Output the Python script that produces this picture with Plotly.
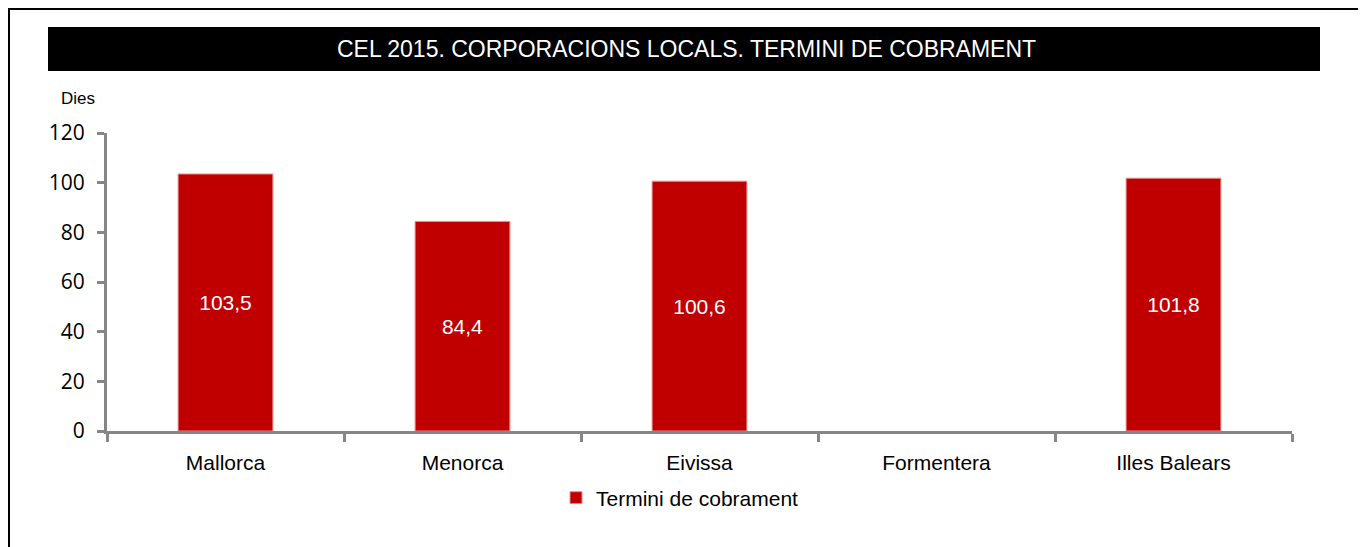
import plotly.graph_objects as go

categories = ["Mallorca", "Menorca", "Eivissa", "Formentera", "Illes Balears"]
values = [103.5, 84.4, 100.6, None, 101.8]
labels = ["103,5", "84,4", "100,6", "", "101,8"]
series_name = "Termini de cobrament"
y_ticks = [0, 20, 40, 60, 80, 100, 120]
title_text = "CEL 2015. CORPORACIONS LOCALS. TERMINI DE COBRAMENT"
y_unit = "Dies"

# page body has an 8px margin; work in reference-pixel coordinates
OFF = 8
W, H = 1366 - OFF, 547 - OFF
PX0, PX1, PY0, PY1 = 107, 1292, 133, 431  # plot area in reference pixels
L, R, T, B = PX0 - OFF, W - (PX1 - OFF), PY0 - OFF, H - (PY1 - OFF)
pw, ph = PX1 - PX0, PY1 - PY0

def px_x(px):
    return (px - PX0) / pw

def px_y(py):
    return (PY1 - py) / ph

NARROW = "Liberation Sans Narrow, Arial Narrow, Liberation Sans, Arial, sans-serif"
NUM = "Open Sans, sans-serif"
RED = "#C00000"
GRAY = "#868686"

fig = go.Figure()
fig.add_trace(go.Bar(
    x=categories, y=values, name=series_name,
    marker=dict(color=RED, line=dict(color="#E89090", width=1)),
    width=0.4,
    text=labels, textposition="inside", insidetextanchor="middle",
    textfont=dict(family=NARROW, size=21, color="white"),
    textangle=0,
    showlegend=True,
))

fig.update_layout(
    width=W, height=H, autosize=False,
    margin=dict(l=L, r=R, t=T, b=B, pad=0),
    paper_bgcolor="white", plot_bgcolor="white",
    showlegend=True,
    legend=dict(orientation="h", x=px_x(680), y=px_y(498), xanchor="center", yanchor="middle",
                font=dict(family=NARROW, size=21, color="black"),
                itemwidth=30, bgcolor="rgba(0,0,0,0)"),
    xaxis=dict(
        type="category", range=[-0.5, 4.5],
        showline=True, linecolor=GRAY, linewidth=3,
        ticks="outside", tickson="boundaries", ticklen=8, tickwidth=3, tickcolor=GRAY,
        tickfont=dict(family=NARROW, size=21, color="black"),
        showgrid=False, zeroline=False, ticklabelstandoff=11,
    ),
    yaxis=dict(
        range=[0, 120], tickvals=y_ticks,
        showline=True, linecolor=GRAY, linewidth=3,
        ticks="outside", ticklen=7, tickwidth=3, tickcolor=GRAY,
        tickfont=dict(family=NUM, size=21, color="black"),
        showgrid=False, zeroline=False, ticklabelstandoff=8,
    ),
    shapes=[
        dict(type="rect", xref="paper", yref="paper",
             x0=px_x(8.5), x1=px_x(1360), y0=px_y(600), y1=px_y(8.5),
             line=dict(color="black", width=3), fillcolor="rgba(0,0,0,0)", layer="below"),
        dict(type="rect", xref="paper", yref="paper",
             x0=px_x(48), x1=px_x(1320), y0=px_y(71), y1=px_y(27),
             line=dict(width=0), fillcolor="black", layer="below"),
    ],
    annotations=[
        dict(text=title_text, xref="paper", yref="paper", x=px_x(686), y=px_y(49),
             xanchor="center", yanchor="middle", showarrow=False,
             font=dict(family=NARROW, size=23, color="white")),
        dict(text=y_unit, xref="paper", yref="paper", x=px_x(78), y=px_y(98),
             xanchor="center", yanchor="middle", showarrow=False,
             font=dict(family=NARROW, size=17, color="black")),
    ],
)

fig.write_html("out.html")
